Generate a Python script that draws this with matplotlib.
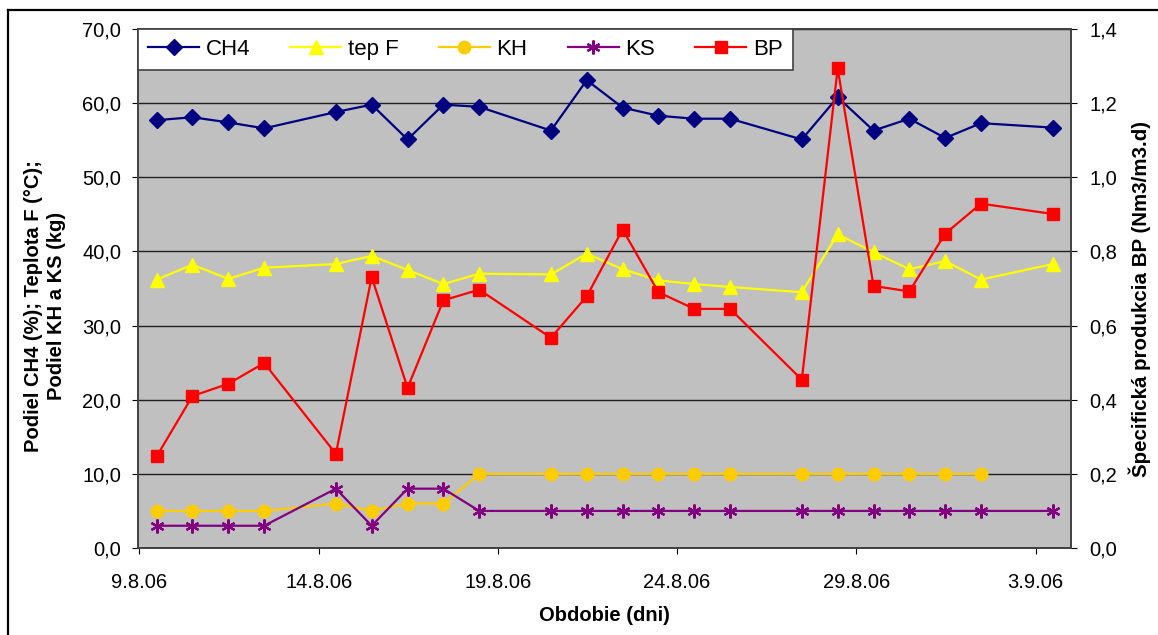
import numpy as np
import pandas as pd
import matplotlib
matplotlib.use("Agg")
import matplotlib.pyplot as plt
import matplotlib.dates as mdates
from matplotlib.lines import Line2D
from matplotlib.ticker import FuncFormatter, MultipleLocator

plt.rcParams['font.family'] = ['Liberation Sans', 'DejaVu Sans']

# data
dates = ['2006-08-09', '2006-08-10', '2006-08-11', '2006-08-12', '2006-08-14',
         '2006-08-15', '2006-08-16', '2006-08-17', '2006-08-18', '2006-08-20',
         '2006-08-21', '2006-08-22', '2006-08-23', '2006-08-24', '2006-08-25',
         '2006-08-27', '2006-08-28', '2006-08-29', '2006-08-30', '2006-08-31',
         '2006-09-01', '2006-09-03']
ch4 = [57.7, 58.1, 57.4, 56.6, 58.8, 59.8, 55.1, 59.8, 59.5, 56.3, 63.1,
       59.4, 58.3, 57.9, 57.9, 55.1, 60.8, 56.3, 57.9, 55.3, 57.3, 56.7]
tep_f = [36.2, 38.2, 36.3, 37.8, 38.3, 39.4, 37.5, 35.6, 37.0, 36.9, 39.7,
         37.6, 36.1, 35.6, 35.2, 34.5, 42.3, 39.9, 37.6, 38.7, 36.2, 38.3]
kh = [5, 5, 5, 5, 6, 5, 6, 6, 10, 10, 10, 10, 10, 10, 10, 10, 10, 10, 10,
      10, 10, np.nan]
ks = [3, 3, 3, 3, 8, 3, 8, 8, 5, 5, 5, 5, 5, 5, 5, 5, 5, 5, 5, 5, 5, 5]
bp = [0.247, 0.41, 0.443, 0.499, 0.254, 0.731, 0.432, 0.668, 0.697, 0.567,
      0.679, 0.859, 0.69, 0.645, 0.645, 0.454, 1.294, 0.707, 0.692, 0.848,
      0.929, 0.901]
tick_dates = ['2006-08-09', '2006-08-14', '2006-08-19', '2006-08-24',
              '2006-08-29', '2006-09-03']
tick_labels = ['9.8.06', '14.8.06', '19.8.06', '24.8.06', '29.8.06', '3.9.06']

# Excel places the points in the middle of the day
x = mdates.date2num(pd.to_datetime(dates)) + 0.48
xt = mdates.date2num(pd.to_datetime(tick_dates))

fs = 14.5
fig = plt.figure(figsize=(11.58, 6.35), dpi=100)
ax = fig.add_axes([138/1158, 87/635, 933/1158, 519/635])
ax2 = ax.twinx()

ax.set_facecolor('#C0C0C0')
ax.set_axisbelow(True)
ax.grid(axis='y', color='#202020', linewidth=1)

l1, = ax.plot(x, ch4, color='#000080', marker='D', ms=8, lw=1.6, label='CH4')
l2, = ax.plot(x, tep_f, color='#FFFF00', marker='^', ms=9.5, lw=1.6, label='tep F')
l3, = ax.plot(x, kh, color='#FFCC00', marker='o', ms=9, lw=1.6, label='KH')
l4, = ax.plot(x, ks, color='#800080', marker=(6, 2, 0), ms=10, mew=1.6, lw=1.6, label='KS')
l5, = ax2.plot(x, bp, color='#FF0000', marker='s', ms=9, lw=1.6, label='BP')

ax.set_xlim(xt[0] - 0.04, xt[0] + 25.99)
ax.set_ylim(0, 70)
ax2.set_ylim(0, 1.4)
ax.yaxis.set_major_locator(MultipleLocator(10))
ax2.yaxis.set_major_locator(MultipleLocator(0.2))
ax.yaxis.set_major_formatter(FuncFormatter(lambda v, p: f'{v:.1f}'.replace('.', ',')))
ax2.yaxis.set_major_formatter(FuncFormatter(lambda v, p: f'{v:.1f}'.replace('.', ',')))
ax.set_xticks(xt)
ax.set_xticklabels(tick_labels)

ax.tick_params(axis='x', direction='out', length=4, pad=14, labelsize=fs)
ax.tick_params(axis='y', direction='out', length=4, pad=8, labelsize=fs)
ax2.tick_params(axis='y', direction='out', length=4, pad=9, labelsize=fs)
for a in (ax, ax2):
    for s in a.spines.values():
        s.set_color('#404040')
        s.set_linewidth(1.2)

ax.set_xlabel('Obdobie (dni)', fontsize=fs, fontweight='bold', labelpad=10)
ax.set_ylabel('Podiel CH4 (%); Teplota F (°C);\nPodiel KH a KS (kg)',
              fontsize=fs, fontweight='bold', linespacing=1.25)
ax.yaxis.set_label_coords(-0.077, 0.466)
ax2.set_ylabel('Špecifická produkcia BP (Nm3/m3.d)', fontsize=fs + 0.3,
               fontweight='bold')
ax2.yaxis.set_label_coords(1.062, 0.48)

leg = ax2.legend(handles=[l1, l2, l3, l4, l5], ncol=5, loc='upper left',
                 bbox_to_anchor=(0, 1), borderaxespad=0, fontsize=fs + 1.5,
                 frameon=True, fancybox=False, edgecolor='#404040',
                 framealpha=1, handlelength=2.3, handletextpad=0.3,
                 columnspacing=1.8, borderpad=0.45)
leg.get_frame().set_linewidth(1.2)

# outer chart border (visible on top and left)
fig.add_artist(Line2D([8/1158, 1], [1 - 10/635, 1 - 10/635], color='black',
                      lw=1.6, transform=fig.transFigure))
fig.add_artist(Line2D([8/1158, 8/1158], [0, 1 - 10/635], color='black',
                      lw=1.6, transform=fig.transFigure))

fig.savefig('out.png', dpi=100)
